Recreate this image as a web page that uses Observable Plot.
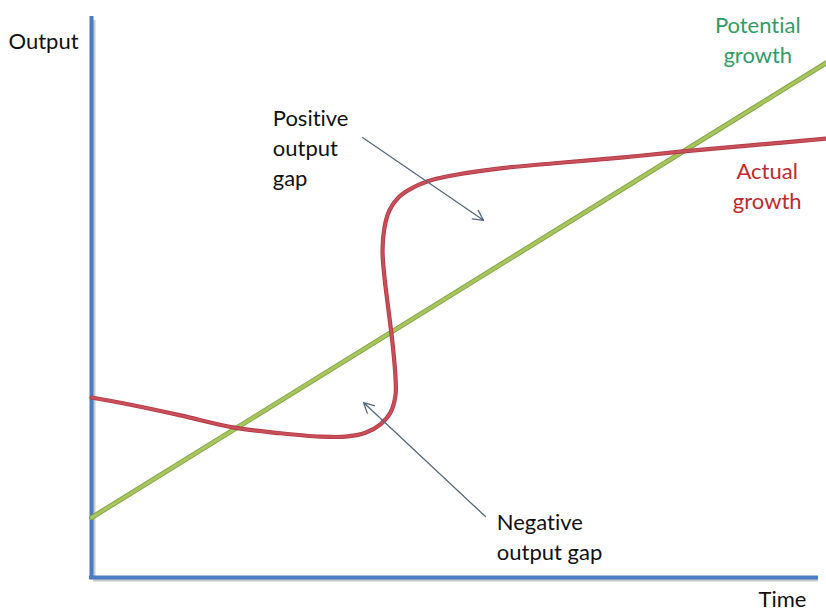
<!DOCTYPE html>
<html>
<head>
<meta charset="utf-8">
<script src="https://cdn.jsdelivr.net/npm/d3@7"></script>
<script src="https://cdn.jsdelivr.net/npm/@observablehq/plot@0.6"></script>
<style>
  html, body { margin: 0; padding: 0; background: #fff; }
  #chart svg { display: block; }
  #chart text { font-variant-ligatures: none; }
</style>
</head>
<body>
<div id="chart"></div>
<script>
// Potential growth: straight trend line (time, output)
const potentialTime = [0, 101.4];
const potentialOutput = [10.7, 92.1];

// Actual growth: S-shaped path (time, output)
const actualTime = [0, 5.38, 12.28, 19.72, 26.07, 31.59, 35.03, 37.79, 39.86, 41.24, 41.93, 41.93, 41.52, 40.97, 40.41, 40.14, 40.41, 41.10, 42.34, 44.41, 47.17, 50.48, 56.41, 64.69, 72.97, 81.24, 90.90, 101.38];
const actualOutput = [32.2, 30.9, 29.0, 26.8, 25.8, 25.2, 25.2, 25.9, 27.4, 29.5, 32.6, 35.8, 41.9, 47.8, 53.7, 58.5, 62.6, 65.7, 68.0, 69.8, 71.2, 72.1, 73.2, 74.2, 75.1, 76.2, 77.3, 78.5];

// Annotation arrows
const arrowNames = ["Positive output gap", "Negative output gap"];
const arrowX1 = [37.38, 54.34];
const arrowY1 = [78.7, 10.9];
const arrowX2 = [54.07, 37.52];
const arrowY2 = [63.9, 31.3];

// Labels
const labelText = ["Output", "Potential\ngrowth", "Actual\ngrowth", "Positive\noutput\ngap", "Negative\noutput gap", "Time"];
const labelX = [-11.45, 91.9, 93.2, 25.0, 55.9, 95.3];
const labelY = [96.2, 96.5, 70.3, 77.1, 7.6, -3.5];
const labelAnchor = ["start", "middle", "middle", "start", "start", "middle"];
const labelColor = ["#111111", "#2f9c68", "#c0282e", "#111111", "#111111", "#111111"];

const potential = potentialTime.map((t, i) => ({t, o: potentialOutput[i]}));
const actual = actualTime.map((t, i) => ({t, o: actualOutput[i]}));
const arrows = arrowNames.map((n, i) => ({n, x1: arrowX1[i], y1: arrowY1[i], x2: arrowX2[i], y2: arrowY2[i]}));
const labels = labelText.map((s, i) => ({s, x: labelX[i], y: labelY[i], a: labelAnchor[i], c: labelColor[i]}));

const font = "Lato, 'Open Sans', sans-serif";
const textOpts = {x: "x", y: "y", text: "s", fill: "c", fontSize: 22, lineHeight: 1.36, lineAnchor: "middle"};

const plot = Plot.plot({
  width: 826,
  height: 612,
  marginLeft: 91,
  marginRight: 10,
  marginTop: 18,
  marginBottom: 35,
  x: {domain: [0, 100], axis: null},
  y: {domain: [0, 100], axis: null},
  color: {type: "identity"},
  clip: false,
  style: {background: "#fff", fontFamily: font},
  marks: [
    // axis shadows
    Plot.ruleX([0], {stroke: "#c8c8c8", strokeWidth: 4, dx: 2, dy: 2}),
    Plot.ruleY([0], {stroke: "#c8c8c8", strokeWidth: 4, dx: 2, dy: 2}),
    // axes
    Plot.ruleX([0], {stroke: "#4a7cc3", strokeWidth: 4, strokeLinecap: "square"}),
    Plot.ruleY([0], {stroke: "#4a7cc3", strokeWidth: 4, strokeLinecap: "square"}),
    // potential growth
    Plot.line(potential, {x: "t", y: "o", stroke: "#86a548", strokeWidth: 5}),
    Plot.line(potential, {x: "t", y: "o", stroke: "#a8c65e", strokeWidth: 3}),
    // actual growth
    Plot.line(actual, {x: "t", y: "o", curve: "catmull-rom", stroke: "#b33a46", strokeWidth: 4.2}),
    Plot.line(actual, {x: "t", y: "o", curve: "catmull-rom", stroke: "#c9505a", strokeWidth: 2.4}),
    // arrows
    Plot.arrow(arrows, {x1: "x1", y1: "y1", x2: "x2", y2: "y2", stroke: "#56677f", strokeWidth: 1.3, headLength: 13, headAngle: 55}),
    // labels
    Plot.text(labels.filter((d) => d.a === "start"), {...textOpts, textAnchor: "start"}),
    Plot.text(labels.filter((d) => d.a === "middle"), {...textOpts, textAnchor: "middle"})
  ]
});

document.getElementById("chart").appendChild(plot);
</script>
</body>
</html>
